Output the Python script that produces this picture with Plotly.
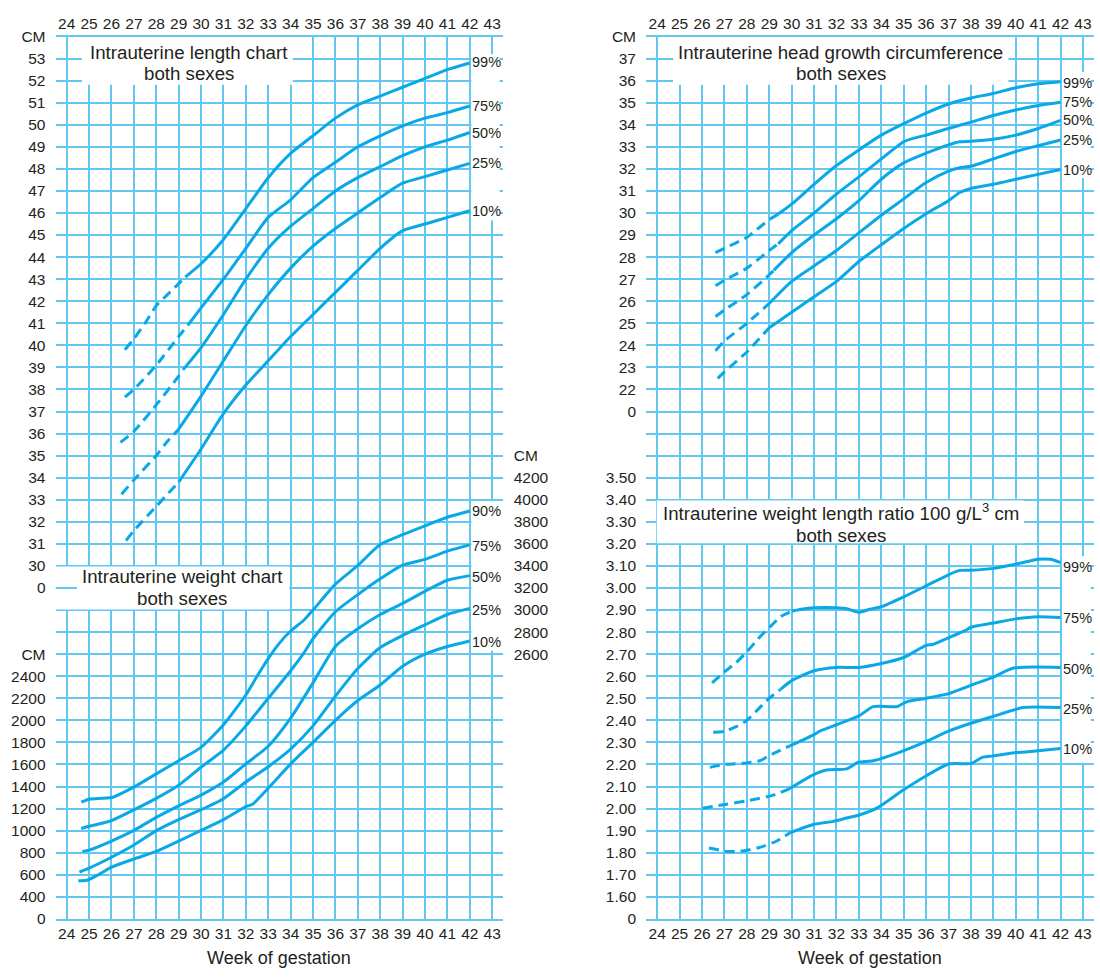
import plotly.graph_objects as go

# ---------------- data ----------------
week_ticks = list(range(24, 44))

# Intrauterine length chart (cm)
len_p99_wk = [26.6, 27, 27.5, 28, 28.5, 29, 29.3, 30, 31, 32, 33, 34, 35, 36, 37, 38, 39, 40, 41, 42]
len_p99 = [39.8, 40.3, 41.0, 41.8, 42.3, 42.8, 43.1, 43.7, 44.8, 46.2, 47.6, 48.7, 49.5, 50.3, 50.9, 51.3, 51.7, 52.1, 52.5, 52.8]
len_p75_wk = [26.6, 27, 28, 29, 29.4, 30, 31, 32, 33, 34, 35, 36, 37, 38, 39, 40, 41, 42]
len_p75 = [37.65, 38.0, 39.1, 40.4, 40.9, 41.7, 43.0, 44.4, 45.8, 46.6, 47.6, 48.3, 49.0, 49.5, 49.95, 50.3, 50.55, 50.85]
len_p50_wk = [26.4, 27, 28, 29, 29.2, 30, 31, 32, 33, 34, 35, 36, 37, 38, 39, 40, 41, 42]
len_p50 = [35.6, 36.1, 37.3, 38.6, 38.9, 39.9, 41.4, 43.0, 44.4, 45.4, 46.2, 47.0, 47.6, 48.1, 48.6, 49.0, 49.3, 49.65]
len_p25_wk = [26.45, 27, 28, 28.5, 29, 30, 31, 32, 33, 34, 35, 36, 37, 38, 39, 40, 41, 42]
len_p25 = [33.25, 33.9, 35.0, 35.65, 36.2, 37.7, 39.3, 40.9, 42.3, 43.5, 44.5, 45.3, 46.0, 46.7, 47.35, 47.65, 47.95, 48.25]
len_p10_wk = [26.65, 27, 28, 29, 30, 31, 32, 33, 34, 35, 36, 37, 38, 39, 40, 41, 42]
len_p10 = [31.15, 31.6, 32.7, 33.8, 35.3, 36.9, 38.2, 39.3, 40.4, 41.4, 42.4, 43.4, 44.4, 45.2, 45.5, 45.8, 46.1]
len_dash_end = [29.3, 29.4, 29.2, 29.0, 29.0]

# Intrauterine weight chart (g)
wt_p90_wk = [24.65, 25, 26, 27, 28, 29, 30, 31, 32, 32.5, 33, 33.5, 34, 34.6, 35, 36, 37, 38, 39, 40, 41, 42]
wt_p90 = [1258, 1285, 1300, 1395, 1515, 1634, 1755, 1960, 2230, 2400, 2560, 2700, 2810, 2910, 3000, 3235, 3405, 3594, 3683, 3764, 3841, 3898]
wt_p75_wk = [24.65, 25, 26, 27, 28, 29, 30, 31, 32, 33, 34, 34.6, 35, 36, 37, 38, 39, 40, 41, 42]
wt_p75 = [1020, 1040, 1091, 1189, 1293, 1412, 1575, 1730, 1950, 2200, 2450, 2614, 2740, 2985, 3140, 3283, 3407, 3460, 3534, 3591]
wt_p50_wk = [24.7, 25, 26, 27, 28, 29, 30, 31, 32, 33, 34, 35, 36, 37, 38, 39, 40, 41, 42]
wt_p50 = [812, 824, 906, 1002, 1120, 1225, 1322, 1441, 1605, 1765, 2020, 2340, 2670, 2830, 2960, 3060, 3170, 3270, 3312]
wt_p25_wk = [24.57, 25, 26, 27, 28, 29, 30, 31, 32, 33, 34, 35, 36, 37, 38, 39, 40, 41, 42]
wt_p25 = [625, 660, 759, 870, 1000, 1100, 1190, 1290, 1441, 1580, 1740, 1950, 2220, 2470, 2660, 2770, 2866, 2960, 3015]
wt_p10_wk = [24.52, 24.9, 25.5, 26, 27, 28, 29, 30, 31, 32, 32.3, 33, 34, 35, 36, 37, 38, 39, 40, 41, 42]
wt_p10 = [545, 550, 610, 669, 743, 812, 906, 1002, 1100, 1218, 1240, 1385, 1605, 1800, 2000, 2180, 2320, 2490, 2600, 2670, 2720]

# Intrauterine head growth circumference (cm)
hc_p99_wk = [26.6, 27, 28, 29, 29.4, 30, 31, 32, 33, 34, 35, 36, 37, 38, 39, 40, 41, 42]
hc_p99 = [28.2, 28.4, 28.9, 29.7, 29.95, 30.4, 31.3, 32.15, 32.86, 33.53, 34.05, 34.53, 34.94, 35.21, 35.42, 35.68, 35.86, 35.95]
hc_p75_wk = [26.6, 27, 28, 29, 29.4, 30, 31, 32, 33, 34, 35, 35.6, 36, 37, 38, 39, 40, 41, 42]
hc_p75 = [26.7, 26.95, 27.5, 28.3, 28.6, 29.2, 30.0, 30.86, 31.64, 32.45, 33.23, 33.43, 33.53, 33.83, 34.12, 34.42, 34.67, 34.87, 35.02]
hc_p50_wk = [26.6, 27, 28, 29, 29.2, 30, 31, 32, 33, 34, 35, 36, 37, 37.5, 38, 39, 40, 41, 42]
hc_p50 = [25.3, 25.6, 26.3, 27.2, 27.4, 28.2, 29.0, 29.74, 30.56, 31.53, 32.27, 32.71, 33.09, 33.23, 33.25, 33.34, 33.53, 33.83, 34.2]
hc_p25_wk = [26.6, 27, 28, 29, 30, 31, 32, 33, 34, 35, 36, 37, 37.5, 38, 39, 40, 41, 42]
hc_p25 = [23.75, 24.2, 25.0, 25.9, 26.9, 27.6, 28.3, 29.1, 29.9, 30.64, 31.38, 31.9, 32.05, 32.12, 32.45, 32.79, 33.05, 33.31]
hc_p10_wk = [26.7, 27, 28, 29, 30, 31, 32, 33, 34, 35, 36, 37, 37.5, 38, 39, 40, 41, 42]
hc_p10 = [22.5, 22.8, 23.7, 24.8, 25.5, 26.2, 26.9, 27.8, 28.56, 29.3, 29.97, 30.56, 30.93, 31.11, 31.3, 31.53, 31.75, 31.97]
hc_dash_end = [29.4, 29.4, 29.2, 29.0, 29.0]

# Intrauterine weight length ratio (100 g/L^3 cm)
wl_p99_wk = [26.45, 27, 27.5, 28, 28.5, 29, 29.5, 30, 30.5, 31, 32, 32.5, 33, 33.5, 34, 35, 36, 37, 37.5, 38, 39, 40, 41, 41.55, 42]
wl_p99 = [2.57, 2.62, 2.66, 2.71, 2.77, 2.82, 2.87, 2.895, 2.905, 2.91, 2.91, 2.905, 2.89, 2.904, 2.915, 2.96, 3.01, 3.06, 3.08, 3.081, 3.089, 3.108, 3.13, 3.13, 3.115]
wl_p75_wk = [26.5, 27, 27.5, 28, 28.5, 29, 29.5, 30, 31, 32, 33, 34, 35, 36, 36.3, 37, 37.8, 38, 39, 40, 41, 42]
wl_p75 = [2.346, 2.35, 2.37, 2.40, 2.45, 2.50, 2.54, 2.58, 2.625, 2.64, 2.64, 2.658, 2.685, 2.74, 2.744, 2.774, 2.81, 2.822, 2.841, 2.86, 2.87, 2.866]
wl_p50_wk = [26.35, 27, 28, 28.58, 29, 29.92, 31, 31.26, 32, 33, 33.64, 34.69, 35.13, 36, 37, 38, 39, 39.9, 42]
wl_p50 = [2.187, 2.20, 2.207, 2.217, 2.24, 2.284, 2.335, 2.351, 2.38, 2.42, 2.462, 2.462, 2.484, 2.50, 2.521, 2.559, 2.596, 2.637, 2.64]
wl_p25_wk = [26.03, 27.1, 27.99, 29.18, 29.92, 30.96, 31.56, 32.45, 32.97, 33.64, 34.98, 36.03, 37, 38.03, 39, 40.33, 42]
wl_p25 = [2.002, 2.02, 2.035, 2.061, 2.091, 2.153, 2.175, 2.18, 2.21, 2.217, 2.262, 2.306, 2.351, 2.388, 2.418, 2.458, 2.458]
wl_p10_wk = [26.31, 27.1, 27.69, 28.58, 29.33, 29.92, 30.96, 31.86, 32.45, 33.05, 33.8, 34.98, 36.03, 37, 38.03, 38.5, 39, 40.04, 41, 42]
wl_p10 = [1.821, 1.806, 1.806, 1.824, 1.853, 1.89, 1.928, 1.942, 1.957, 1.972, 2.002, 2.084, 2.15, 2.202, 2.205, 2.232, 2.239, 2.254, 2.262, 2.272]
wl_dash_end = [30, 29.5, 29.92, 29.92, 29.92]

# axis tick labels
len_tick_vals = list(range(29, 55))
len_tick_text = ["0"] + [str(v) for v in range(30, 54)] + ["CM"]
wt_left_vals = [200] + list(range(400, 2601, 200))
wt_left_text = ["0"] + [str(v) for v in range(400, 2401, 200)] + ["CM"]
wt_right_vals = list(range(2600, 4401, 200))
wt_right_text = [str(v) for v in range(2600, 4201, 200)] + ["CM"]
hc_tick_vals = list(range(21, 39))
hc_tick_text = ["0"] + [str(v) for v in range(22, 38)] + ["CM"]
wl_tick_vals = [round(1.5 + 0.1 * i, 2) for i in range(0, 21)]
wl_tick_text = ["0"] + ["%.2f" % v for v in wl_tick_vals[1:]]

pct_len = ["99%", "75%", "50%", "25%", "10%"]
pct_len_y = [52.83, 50.85, 49.63, 48.25, 46.1]
pct_wt = ["90%", "75%", "50%", "25%", "10%"]
pct_wt_y = [3898, 3585, 3303, 3000, 2712]
pct_hc = ["99%", "75%", "50%", "25%", "10%"]
pct_hc_y = [35.9, 35.05, 34.2, 33.31, 31.97]
pct_wl = ["99%", "75%", "50%", "25%", "10%"]
pct_wl_y = [3.093, 2.863, 2.633, 2.45, 2.269]

# ---------------- style ----------------
W, H = 1100, 977
CURVE = "#0AA8E6"
GRID = "#62C8F2"
TXT = "#231f20"
FONT = "Liberation Sans, Arial, Helvetica, sans-serif"
TICKFONT = dict(family=FONT, size=15.5, color=TXT)


def px_x(p):
    return p / W


def px_y(p):
    return (H - p) / H


def row_of(py):
    return (926.0 - py) / 22.45


L_DOM = [px_x(55.5), px_x(502.7)]
R_DOM = [px_x(646.0), px_x(1093.5)]
Y_DOM = [px_y(926.0), px_y(28.0)]
XR = [23.5, 43.47]

fig = go.Figure()


def add_curve(wk, vals, cut, xa, ya):
    k = min(range(len(wk)), key=lambda i: abs(wk[i] - cut))
    line = dict(color=CURVE, width=3, shape="spline", smoothing=0.6)
    if k > 0:
        fig.add_trace(go.Scatter(x=wk[:k + 1], y=vals[:k + 1], xaxis=xa, yaxis=ya, mode="lines",
                                 line=dict(line, dash="10px,6px"),
                                 showlegend=False, hoverinfo="skip"))
    fig.add_trace(go.Scatter(x=wk[k:], y=vals[k:], xaxis=xa, yaxis=ya, mode="lines",
                             line=line, showlegend=False, hoverinfo="skip"))


for (wk, v), c in zip([(len_p99_wk, len_p99), (len_p75_wk, len_p75), (len_p50_wk, len_p50),
                       (len_p25_wk, len_p25), (len_p10_wk, len_p10)], len_dash_end):
    add_curve(wk, v, c, "x", "y")
for wk, v in [(wt_p90_wk, wt_p90), (wt_p75_wk, wt_p75), (wt_p50_wk, wt_p50),
              (wt_p25_wk, wt_p25), (wt_p10_wk, wt_p10)]:
    add_curve(wk, v, 0, "x", "y3")
for (wk, v), c in zip([(hc_p99_wk, hc_p99), (hc_p75_wk, hc_p75), (hc_p50_wk, hc_p50),
                       (hc_p25_wk, hc_p25), (hc_p10_wk, hc_p10)], hc_dash_end):
    add_curve(wk, v, c, "x2", "y2")
for (wk, v), c in zip([(wl_p99_wk, wl_p99), (wl_p75_wk, wl_p75), (wl_p50_wk, wl_p50),
                       (wl_p25_wk, wl_p25), (wl_p10_wk, wl_p10)], wl_dash_end):
    add_curve(wk, v, c, "x2", "y5")

# dummy traces so overlay axes are drawn
for xa, ya in [("x3", "y"), ("x4", "y2"), ("x", "y4")]:
    fig.add_trace(go.Scatter(x=[None], y=[None], xaxis=xa, yaxis=ya, showlegend=False,
                             hoverinfo="skip"))

xcommon = dict(range=XR, tickmode="array", tickvals=week_ticks, ticks="",
               tickfont=TICKFONT, zeroline=False, fixedrange=True)
ygrid = dict(showgrid=True, gridcolor=GRID, gridwidth=2)

fig.update_layout(
    width=W, height=H, margin=dict(l=0, r=0, t=0, b=0),
    paper_bgcolor="white", plot_bgcolor="white", showlegend=False, hovermode=False,
    xaxis=dict(xcommon, domain=L_DOM, anchor="y", showgrid=True, gridcolor=GRID, gridwidth=2,
               showline=True, linecolor=GRID, linewidth=2, mirror=True, ticklabelstandoff=0),
    xaxis3=dict(xcommon, overlaying="x", side="top", anchor="y", showgrid=False,
                ticklabelstandoff=3),
    xaxis2=dict(xcommon, domain=R_DOM, anchor="y2", showgrid=True, gridcolor=GRID, gridwidth=2,
                showline=True, linecolor=GRID, linewidth=2, mirror=True, ticklabelstandoff=0),
    xaxis4=dict(xcommon, overlaying="x2", side="top", anchor="y2", showgrid=False,
                ticklabelstandoff=3),
    yaxis=dict(domain=Y_DOM, anchor="x", range=[14, 54], tickmode="array",
               tickvals=len_tick_vals, ticktext=len_tick_text, ticks="", tickfont=TICKFONT,
               zeroline=False, fixedrange=True, ticklabelstandoff=9,
               minor=dict(tickmode="array", tickvals=list(range(14, 55)), showgrid=True,
                          gridcolor=GRID, gridwidth=2), **ygrid),
    yaxis3=dict(overlaying="y", anchor="x", side="left", range=[200, 8200], tickmode="array",
                tickvals=wt_left_vals, ticktext=wt_left_text, ticks="", tickfont=TICKFONT,
                showgrid=False, zeroline=False, fixedrange=True, ticklabelstandoff=9),
    yaxis4=dict(overlaying="y", anchor="x", side="right", range=[200, 8200], tickmode="array",
                tickvals=wt_right_vals, ticktext=wt_right_text, ticks="", tickfont=TICKFONT,
                showgrid=False, zeroline=False, fixedrange=True, ticklabelstandoff=10),
    yaxis2=dict(domain=Y_DOM, anchor="x2", range=[-2, 38], tickmode="array",
                tickvals=hc_tick_vals, ticktext=hc_tick_text, ticks="", tickfont=TICKFONT,
                zeroline=False, fixedrange=True, ticklabelstandoff=9,
                minor=dict(tickmode="array", tickvals=list(range(-2, 39)), showgrid=True,
                           gridcolor=GRID, gridwidth=2), **ygrid),
    yaxis5=dict(overlaying="y2", anchor="x2", side="left", range=[1.5, 5.5], tickmode="array",
                tickvals=wl_tick_vals, ticktext=wl_tick_text, ticks="", tickfont=TICKFONT,
                showgrid=False, zeroline=False, fixedrange=True, ticklabelstandoff=9),
)

# white boxes behind titles and percentile labels (rows: grid row index, 0 at bottom)
L_OFF, R_OFF = 14, -2   # main-axis value = row + offset
boxes_between = [
    # (panel, week0, week1, row0, row1)
    ("L", 24.68, 34.1, row_of(77), 40),        # length title
    ("L", 23.55, 33.94, 14.03, 15.97),         # weight title
    ("R", 24.71, 39.67, row_of(77), 40),       # head title
    ("R", 23.98, 40.37, 17.03, 18.97),         # ratio title
    ("L", 42.07, 43.33, row_of(215), row_of(46)),   # length pct
    ("R", 42.07, 43.35, row_of(172), row_of(64)),   # head pct
    ("R", 42.07, 43.35, row_of(767), row_of(557)),  # ratio pct
]
for pnl, x0, x1, r0, r1 in boxes_between:
    off = L_OFF if pnl == "L" else R_OFF
    fig.add_shape(type="rect", xref="x" if pnl == "L" else "x2", yref="y" if pnl == "L" else "y2",
                  x0=x0, x1=x1, y0=r0 + off, y1=r1 + off,
                  fillcolor="white", line=dict(width=0), layer="between")
# short grid stub at the "0" row next to the weight title box
fig.add_shape(type="line", xref="x", yref="y", x0=23.5, x1=24.46, y0=15 + L_OFF, y1=15 + L_OFF,
              line=dict(color=GRID, width=2), layer="between")
# weight percentile box covers the right border as well
fig.add_shape(type="rect", xref="paper", yref="paper", x0=px_x(471.5), x1=px_x(506),
              y0=px_y(653), y1=px_y(501), fillcolor="white", line=dict(width=0), layer="above")

TITLEFONT = dict(family=FONT, size=18.7, color=TXT)
titles = [
    ("x", "y", 29.46, 53.29, "Intrauterine length chart"),
    ("x", "y", 29.46, 52.31, "both sexes"),
    ("x", "y", 29.16, 29.51, "Intrauterine weight chart"),
    ("x", "y", 29.16, 28.51, "both sexes"),
    ("x2", "y2", 32.2, 37.29, "Intrauterine head growth circumference"),
    ("x2", "y2", 32.2, 36.31, "both sexes"),
    ("x2", "y5", 32.19, 3.345, "Intrauterine weight length ratio 100 g/L<sup>3</sup> cm"),
    ("x2", "y5", 32.19, 3.24, "both sexes"),
]
for xr, yr, x, y, t in titles:
    fig.add_annotation(xref=xr, yref=yr, x=x, y=y, text=t, showarrow=False,
                       xanchor="center", yanchor="middle", font=TITLEFONT)

PCTFONT = dict(family=FONT, size=14.5, color=TXT)
for labels, ys, xr, yr in [(pct_len, pct_len_y, "x", "y"), (pct_wt, pct_wt_y, "x", "y3"),
                           (pct_hc, pct_hc_y, "x2", "y2"), (pct_wl, pct_wl_y, "x2", "y5")]:
    for t, y in zip(labels, ys):
        fig.add_annotation(xref=xr, yref=yr, x=42.0, y=y, text=t, showarrow=False,
                           xanchor="left", yanchor="middle", font=PCTFONT)

for cx in [(L_DOM[0] + L_DOM[1]) / 2, (R_DOM[0] + R_DOM[1]) / 2]:
    fig.add_annotation(xref="paper", yref="paper", x=cx, y=px_y(966), text="Week of gestation",
                       showarrow=False, xanchor="center", yanchor="middle",
                       font=dict(family=FONT, size=18, color=TXT))

fig.write_html("out.html", config={"displayModeBar": False, "staticPlot": True},
               post_script="document.body.style.margin='0px';"
                           "document.documentElement.style.overflow='hidden';")
